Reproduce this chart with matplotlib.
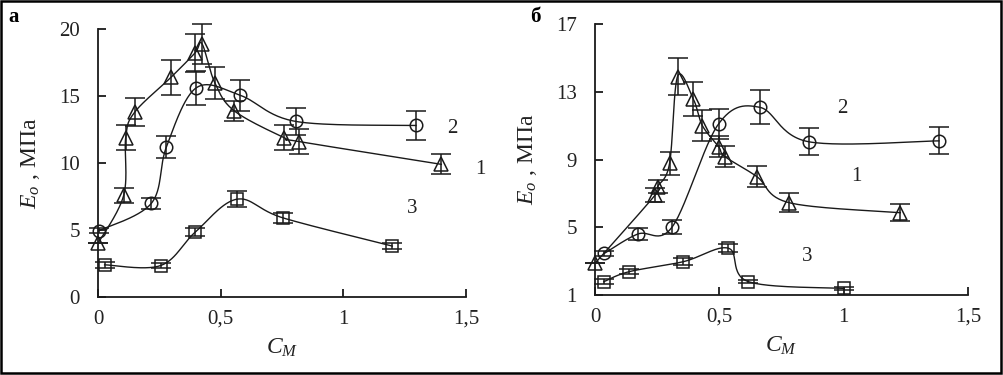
import numpy as np
import matplotlib
matplotlib.use("Agg")
import matplotlib.pyplot as plt
from matplotlib.patches import Rectangle

plt.rcParams["font.family"] = ["Liberation Serif", "DejaVu Serif"]
plt.rcParams["mathtext.fontset"] = "custom"
plt.rcParams["mathtext.it"] = "Liberation Serif:italic"
plt.rcParams["mathtext.rm"] = "Liberation Serif"

# panel a
a1_x = [0.0, 0.105, 0.113, 0.15, 0.298, 0.395, 0.424, 0.476, 0.555, 0.758, 0.82, 1.40]
a1_y = [4.0, 7.6, 11.9, 13.8, 16.4, 18.2, 18.9, 16.0, 13.9, 11.9, 11.6, 9.9]
a1_e = [0.0, 0.55, 0.9, 1.05, 1.3, 1.4, 1.5, 1.2, 0.75, 0.9, 0.9, 0.75]
a2_x = [0.005, 0.218, 0.279, 0.40, 0.58, 0.807, 1.297]
a2_y = [4.95, 7.0, 11.2, 15.6, 15.05, 13.1, 12.8]
a2_e = [0.2, 0.4, 0.85, 1.25, 1.15, 1.0, 1.05]
a3_x = [0.027, 0.256, 0.397, 0.567, 0.755, 1.2]
a3_y = [2.4, 2.35, 4.85, 7.3, 5.9, 3.8]
a3_e = [0.2, 0.15, 0.3, 0.6, 0.4, 0.25]
a_lab = [("2", 1.446, 12.6), ("1", 1.558, 9.5), ("3", 1.283, 6.6)]

# panel b
b1_x = [0.0, 0.242, 0.252, 0.30, 0.332, 0.396, 0.432, 0.497, 0.523, 0.651, 0.781, 1.228]
b1_y = [2.87, 6.9, 7.4, 8.77, 13.9, 12.55, 11.0, 9.76, 9.17, 7.99, 6.45, 5.86]
b1_e = [0.0, 0.4, 0.4, 0.7, 1.1, 1.0, 0.9, 0.6, 0.6, 0.6, 0.55, 0.5]
b2_x = [0.038, 0.172, 0.311, 0.497, 0.663, 0.859, 1.383]
b2_y = [3.46, 4.6, 5.03, 11.1, 12.08, 10.05, 10.1]
b2_e = [0.15, 0.35, 0.4, 0.9, 1.0, 0.8, 0.8]
b3_x = [0.036, 0.138, 0.356, 0.537, 0.617, 1.0]
b3_y = [1.79, 2.38, 2.97, 3.76, 1.79, 1.39]
b3_e = [0.15, 0.15, 0.2, 0.25, 0.1, 0.1]
b_lab = [("2", 0.993, 12.0), ("1", 1.051, 8.0), ("3", 0.855, 3.3)]

xticks = [0, 0.5, 1, 1.5]
xtick_labels = ["0", "0,5", "1", "1,5"]


def smooth(x, y, sx, sy, n=30):
	# bezier smoothing like spreadsheet "smoothed line", done in scaled units
	p = np.column_stack([np.array(x) / sx, np.array(y) / sy])
	pts = [p[0]] + list(p) + [p[-1]]
	out = []
	for i in range(1, len(pts) - 2):
		p0, p1, p2, p3 = pts[i - 1], pts[i], pts[i + 1], pts[i + 2]
		c1 = p1 + (p2 - p0) / 6
		c2 = p2 - (p3 - p1) / 6
		t = np.linspace(0, 1, n)[:, None]
		seg = (1 - t) ** 3 * p1 + 3 * (1 - t) ** 2 * t * c1 + 3 * (1 - t) * t ** 2 * c2 + t ** 3 * p2
		out.append(seg)
	out = np.vstack(out)
	return out[:, 0] * sx, out[:, 1] * sy


def draw(ax, series, labels, ylim, yticks):
	yspan = ylim[1] - ylim[0]
	for x, y, e, m, ms in series:
		cx, cy = smooth(x, y, 1.5, yspan)
		ax.plot(cx, cy, color="#1a1a1a", lw=1.0, zorder=2)
		lines = ax.errorbar(x, y, yerr=e, fmt=m, ms=ms, mfc="none", mec="#1a1a1a", mew=1.1,
			ecolor="#1a1a1a", elinewidth=1.1, capsize=7, capthick=1.1, zorder=3)
		for art in lines.lines[0:1] + tuple(lines.lines[1]) + tuple(lines.lines[2]):
			if art is not None:
				art.set_clip_on(False)
	for t, lx, ly in labels:
		ax.text(lx, ly, t, fontsize=15, ha="center", va="center", color="#222222")
	ax.set_xlim(0, 1.5)
	ax.set_ylim(*ylim)
	ax.set_xticks(xticks)
	ax.set_xticklabels(xtick_labels)
	ax.set_yticks(yticks)
	ax.set_yticklabels([str(v) for v in yticks])
	ax.spines["top"].set_visible(False)
	ax.spines["right"].set_visible(False)
	for s in ["left", "bottom"]:
		ax.spines[s].set_linewidth(1.3)
		ax.spines[s].set_color("#1a1a1a")
	ax.tick_params(direction="in", length=6, width=1.3, labelsize=15, colors="#1a1a1a",
		labelcolor="#222222")
	ax.tick_params(axis="y", pad=13)
	ax.tick_params(axis="x", pad=9)
	ax.patch.set_alpha(0)
	ax.set_xlabel("$C_M$", fontsize=17, color="#222222", labelpad=6)
	ax.set_ylabel("$E_o$ , МПа", fontsize=17, color="#222222", labelpad=12)


fig = plt.figure(figsize=(10.04, 3.75), dpi=100)
ax1 = fig.add_axes([0.0976, 0.208, 0.3664, 0.7147])
ax2 = fig.add_axes([0.5926, 0.2133, 0.3715, 0.7227])

draw(ax1, [(a1_x, a1_y, a1_e, "^", 10), (a2_x, a2_y, a2_e, "o", 9), (a3_x, a3_y, a3_e, "s", 8.5)],
	a_lab, (0, 20), [0, 5, 10, 15, 20])
draw(ax2, [(b1_x, b1_y, b1_e, "^", 10), (b2_x, b2_y, b2_e, "o", 9), (b3_x, b3_y, b3_e, "s", 8.5)],
	b_lab, (1, 17), [1, 5, 9, 13, 17])

fig.text(14 / 1004, 1 - 17 / 375, "а", fontsize=15, fontweight="bold", ha="center", va="center")
fig.text(535 / 1004, 1 - 17 / 375, "б", fontsize=15, fontweight="bold", ha="center", va="center")
fig.patches.append(Rectangle((0.001, 0.005), 0.996, 0.992, transform=fig.transFigure,
	fill=False, lw=1.8, edgecolor="black"))

fig.savefig("out.png", dpi=100)
